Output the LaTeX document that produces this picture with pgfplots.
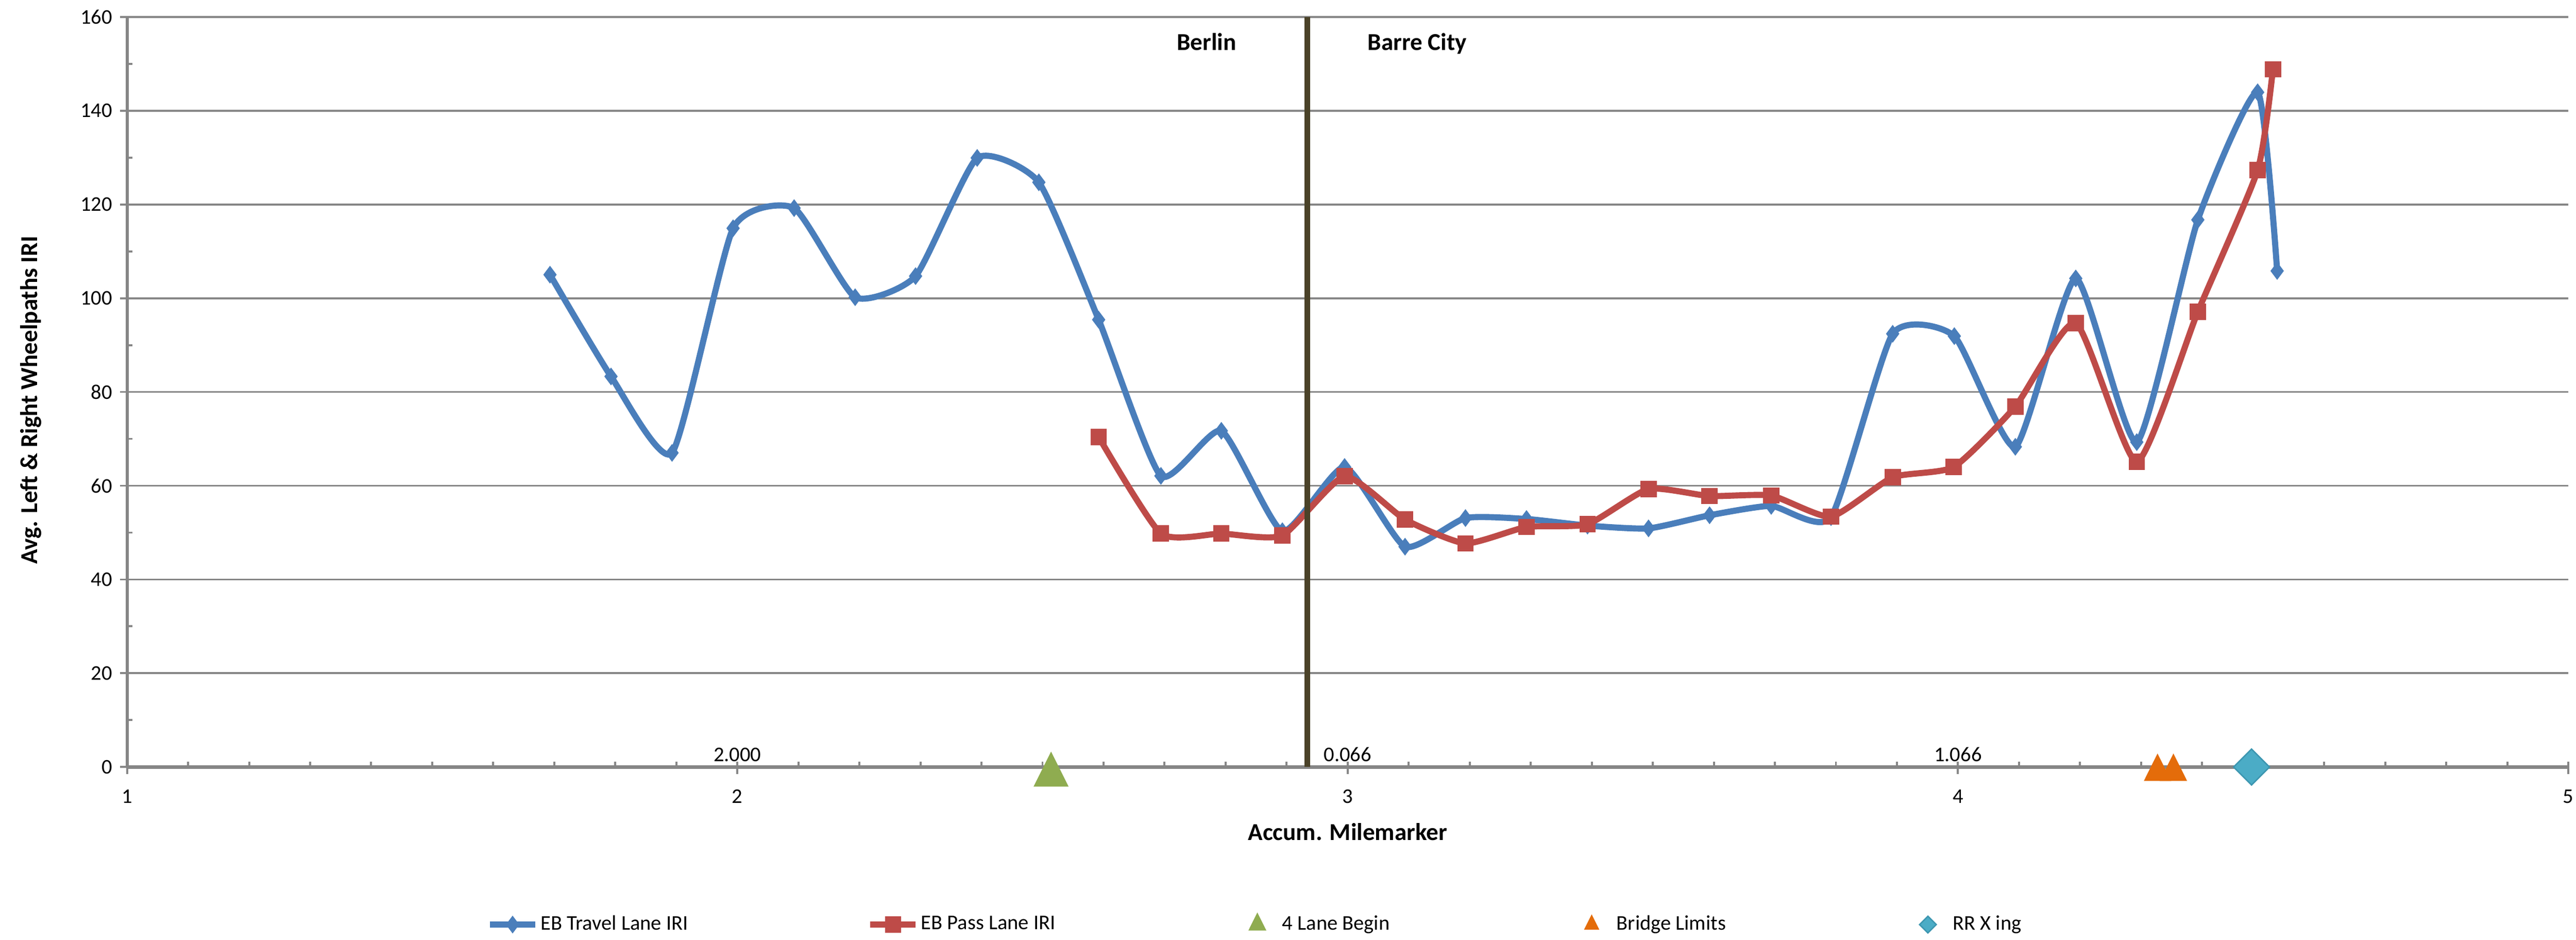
\documentclass[border=0pt]{standalone}
\usepackage{pgfplots}
\pgfplotsset{compat=1.18}
\usepackage{fontspec}
\setmainfont{Carlito}

\definecolor{cBlue}{RGB}{74,126,187}
\definecolor{cRed}{RGB}{190,75,72}
\definecolor{cGreen}{RGB}{143,172,80}
\definecolor{cOrange}{RGB}{228,108,10}
\definecolor{cTeal}{RGB}{75,172,198}
\definecolor{cTealD}{RGB}{60,150,176}
\definecolor{cGrid}{RGB}{134,134,134}
\definecolor{cDiv}{RGB}{74,66,40}

\newcommand{\tickfont}{\fontsize{9.2}{11}\selectfont}
\newcommand{\titlefont}{\fontsize{10.7}{13}\selectfont\bfseries}

\pgfplotsset{
  linelegend/.style={legend image code/.code={
    \draw[mark repeat=2,mark phase=2,##1] plot coordinates {(0pt,0pt)(10pt,0pt)(20pt,0pt)};}},
  marklegend/.style={legend image code/.code={
    \path[draw=none,fill=none] (0pt,0pt) (20pt,0pt);
    \draw[##1] plot coordinates {(10pt,0pt)};}},
}

\begin{document}
\begin{tikzpicture}
\path[use as bounding box] (-56pt,-76pt) rectangle (1079.4pt,338pt);
\begin{axis}[
  width=1076pt, height=330.6pt, scale only axis,
  xmin=1, xmax=5, ymin=0, ymax=160,
  axis lines=left,
  axis line style={-, cGrid, line width=1.4pt},
  xtick={1,2,3,4,5}, minor x tick num=9,
  ytick={0,20,...,160}, minor y tick num=1,
  extra x ticks={1,2,3,4,5}, extra x tick labels={},
  extra x tick style={grid=none, major tick length=-2.4pt},
  tick align=outside,
  major tick length=3pt, minor tick length=-2.4pt,
  tick style={cGrid, line width=0.9pt},
  ymajorgrids,
  major grid style={cGrid, line width=0.9pt},
  clip=false,
  tick label style={font=\tickfont},
  xticklabel style={yshift=-3.4pt},
  /pgf/number format/assume math mode=true,
  xlabel={Accum. Milemarker},
  ylabel={Avg. Left \& Right Wheelpaths IRI},
  label style={font=\titlefont},
  xlabel style={at={(axis description cs:0.5,-0.0974)}, anchor=base},
  ylabel style={at={(axis description cs:-0.0394,0.489)}, anchor=center},
  legend columns=5,
  legend cell align=left,
  legend style={draw=none, fill=none, inner sep=0pt,
    at={(axis description cs:0.1472,-0.2099)}, anchor=west,
    nodes={inner sep=1pt, font=\tickfont},
    /tikz/every even column/.append style={column sep=78pt}},
]

% EB travel lane
\addplot[color=cBlue, line width=2.7pt, smooth, tension=0.33,
  mark=diamond*, mark size=3.6pt, mark options={solid, line width=0.4pt}, linelegend]
coordinates {
(1.693,105.0) (1.793,83.3) (1.893,67.0) (1.993,114.9) (2.093,119.2)
(2.193,100.2) (2.292,104.7) (2.393,129.9) (2.494,124.7) (2.592,95.4)
(2.694,62.1) (2.793,71.7) (2.893,50.3) (2.995,64.0) (3.094,47.0)
(3.193,53.1) (3.293,52.9) (3.393,51.5) (3.493,50.9) (3.593,53.7)
(3.694,55.7) (3.792,53.3) (3.893,92.4) (3.994,91.9) (4.094,68.3)
(4.193,104.2) (4.293,69.3) (4.393,116.7) (4.491,143.9) (4.523,105.8)
};
\addlegendentry{EB Travel Lane IRI}

% EB pass lane
\addplot[color=cRed, line width=2.7pt, smooth, tension=0.33,
  mark=square*, mark size=3.4pt, mark options={solid, line width=0.4pt}, linelegend]
coordinates {
(2.592,70.4) (2.694,49.8) (2.793,49.8) (2.893,49.4) (2.995,62.0)
(3.094,52.8) (3.193,47.7) (3.293,51.2) (3.393,51.8) (3.493,59.3)
(3.593,57.8) (3.694,57.9) (3.792,53.4) (3.893,61.8) (3.993,64.0)
(4.094,76.9) (4.193,94.7) (4.293,65.1) (4.393,97.1) (4.491,127.3)
(4.516,148.8)
};
\addlegendentry{EB Pass Lane IRI}

% 4 lane begin
\addplot[only marks, color=cGreen, mark=triangle*, mark size=8.55pt,
  mark options={yshift=-3.5pt, yscale=1.155}, marklegend,
  legend image post style={mark size=4.2pt, mark options={yscale=1.155}}]
coordinates {(2.514,0)};
\addlegendentry{4 Lane Begin}

% bridge limits
\addplot[only marks, color=cOrange, mark=triangle*, mark size=6.6pt,
  mark options={yshift=-2.1pt, yscale=1.155}, marklegend,
  legend image post style={mark size=3.5pt, mark options={yscale=1.155}}]
coordinates {(4.327,0) (4.353,0)};
\addlegendentry{Bridge Limits}

% RR crossing
\addplot[only marks, draw=cTealD, fill=cTeal, mark=square*, mark size=5.6pt,
  mark options={rotate=45, line width=0.6pt}, marklegend,
  legend image post style={mark size=2.6pt}]
coordinates {(4.481,0)};
\addlegendentry{RR X ing}

% town line
\addplot[forget plot, no marks, color=cDiv, line width=2.6pt]
coordinates {(2.934,0) (2.934,160)};

\node[font=\titlefont, anchor=base] at (axis cs:2.769,152.9) {Berlin};
\node[font=\titlefont, anchor=base] at (axis cs:3.114,152.9) {Barre City};

\node[font=\tickfont, anchor=base, yshift=2.4pt] at (axis cs:2,0) {2.000};
\node[font=\tickfont, anchor=base, yshift=2.4pt] at (axis cs:3,0) {0.066};
\node[font=\tickfont, anchor=base, yshift=2.4pt] at (axis cs:4,0) {1.066};

\end{axis}
\end{tikzpicture}
\end{document}
